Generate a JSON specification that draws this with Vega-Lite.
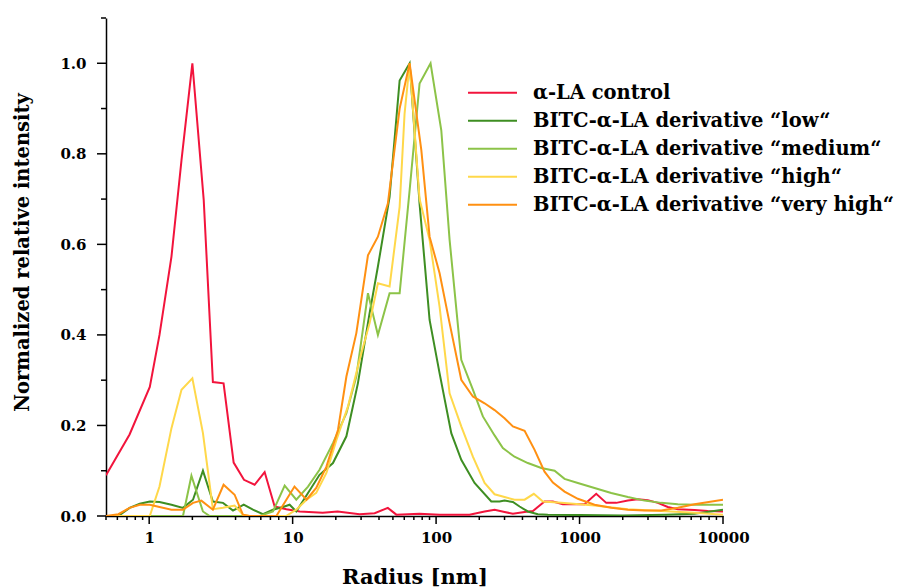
{
  "$schema": "https://vega.github.io/schema/vega-lite/v6.json",
  "width": 617,
  "height": 498,
  "autosize": {"type": "none"},
  "padding": {"left": 106, "top": 18, "right": 174, "bottom": 72},
  "background": "white",
  "config": {
    "view": {"stroke": null},
    "font": "DejaVu Serif",
    "axis": {"grid": false, "labelColor": "black", "titleColor": "black", "labelFont": "DejaVu Serif", "titleFont": "DejaVu Serif", "labelFontWeight": "bold", "titleFontWeight": "bold"}
  },
  "datasets": {
    "xmajor": [{"r": 1}, {"r": 10}, {"r": 100}, {"r": 1000}, {"r": 10000}],
    "xminor": [{"r": 0.5}, {"r": 0.6}, {"r": 0.7}, {"r": 0.8}, {"r": 0.9}, {"r": 2}, {"r": 3}, {"r": 4}, {"r": 5}, {"r": 6}, {"r": 7}, {"r": 8}, {"r": 9}, {"r": 20}, {"r": 30}, {"r": 40}, {"r": 50}, {"r": 60}, {"r": 70}, {"r": 80}, {"r": 90}, {"r": 200}, {"r": 300}, {"r": 400}, {"r": 500}, {"r": 600}, {"r": 700}, {"r": 800}, {"r": 900}, {"r": 2000}, {"r": 3000}, {"r": 4000}, {"r": 5000}, {"r": 6000}, {"r": 7000}, {"r": 8000}, {"r": 9000}],
    "ymajor": [{"v": 0}, {"v": 0.2}, {"v": 0.4}, {"v": 0.6}, {"v": 0.8}, {"v": 1.0}],
    "yminor": [{"v": 0.1}, {"v": 0.3}, {"v": 0.5}, {"v": 0.7}, {"v": 0.9}, {"v": 1.1}],
    "curves": [
      {"r": 0.5, "v": 0.09, "s": "α-LA control"},
      {"r": 0.73, "v": 0.18, "s": "α-LA control"},
      {"r": 1.01, "v": 0.285, "s": "α-LA control"},
      {"r": 1.18, "v": 0.4, "s": "α-LA control"},
      {"r": 1.43, "v": 0.573, "s": "α-LA control"},
      {"r": 1.68, "v": 0.786, "s": "α-LA control"},
      {"r": 2.0, "v": 1.0, "s": "α-LA control"},
      {"r": 2.4, "v": 0.698, "s": "α-LA control"},
      {"r": 2.78, "v": 0.296, "s": "α-LA control"},
      {"r": 3.3, "v": 0.293, "s": "α-LA control"},
      {"r": 3.88, "v": 0.118, "s": "α-LA control"},
      {"r": 4.58, "v": 0.08, "s": "α-LA control"},
      {"r": 5.43, "v": 0.069, "s": "α-LA control"},
      {"r": 6.38, "v": 0.097, "s": "α-LA control"},
      {"r": 7.49, "v": 0.021, "s": "α-LA control"},
      {"r": 9.04, "v": 0.015, "s": "α-LA control"},
      {"r": 11.2, "v": 0.01, "s": "α-LA control"},
      {"r": 16.2, "v": 0.007, "s": "α-LA control"},
      {"r": 20.6, "v": 0.01, "s": "α-LA control"},
      {"r": 29.3, "v": 0.004, "s": "α-LA control"},
      {"r": 37.3, "v": 0.006, "s": "α-LA control"},
      {"r": 46.1, "v": 0.018, "s": "α-LA control"},
      {"r": 52.8, "v": 0.003, "s": "α-LA control"},
      {"r": 76.7, "v": 0.005, "s": "α-LA control"},
      {"r": 105.8, "v": 0.003, "s": "α-LA control"},
      {"r": 171, "v": 0.003, "s": "α-LA control"},
      {"r": 218, "v": 0.01, "s": "α-LA control"},
      {"r": 256, "v": 0.014, "s": "α-LA control"},
      {"r": 300, "v": 0.009, "s": "α-LA control"},
      {"r": 343, "v": 0.005, "s": "α-LA control"},
      {"r": 414, "v": 0.009, "s": "α-LA control"},
      {"r": 473, "v": 0.011, "s": "α-LA control"},
      {"r": 570, "v": 0.032, "s": "α-LA control"},
      {"r": 652, "v": 0.032, "s": "α-LA control"},
      {"r": 765, "v": 0.026, "s": "α-LA control"},
      {"r": 1083, "v": 0.026, "s": "α-LA control"},
      {"r": 1307, "v": 0.049, "s": "α-LA control"},
      {"r": 1535, "v": 0.029, "s": "α-LA control"},
      {"r": 1802, "v": 0.029, "s": "α-LA control"},
      {"r": 2171, "v": 0.034, "s": "α-LA control"},
      {"r": 2548, "v": 0.037, "s": "α-LA control"},
      {"r": 2992, "v": 0.035, "s": "α-LA control"},
      {"r": 3513, "v": 0.029, "s": "α-LA control"},
      {"r": 4124, "v": 0.02, "s": "α-LA control"},
      {"r": 4842, "v": 0.015, "s": "α-LA control"},
      {"r": 6330, "v": 0.013, "s": "α-LA control"},
      {"r": 7837, "v": 0.011, "s": "α-LA control"},
      {"r": 10000, "v": 0.01, "s": "α-LA control"},

      {"r": 0.5, "v": 0, "s": "BITC-α-LA derivative “low“"},
      {"r": 0.61, "v": 0, "s": "BITC-α-LA derivative “low“"},
      {"r": 0.73, "v": 0.018, "s": "BITC-α-LA derivative “low“"},
      {"r": 0.86, "v": 0.027, "s": "BITC-α-LA derivative “low“"},
      {"r": 1.01, "v": 0.032, "s": "BITC-α-LA derivative “low“"},
      {"r": 1.18, "v": 0.031, "s": "BITC-α-LA derivative “low“"},
      {"r": 1.43, "v": 0.025, "s": "BITC-α-LA derivative “low“"},
      {"r": 1.72, "v": 0.018, "s": "BITC-α-LA derivative “low“"},
      {"r": 2.02, "v": 0.036, "s": "BITC-α-LA derivative “low“"},
      {"r": 2.37, "v": 0.1, "s": "BITC-α-LA derivative “low“"},
      {"r": 2.78, "v": 0.032, "s": "BITC-α-LA derivative “low“"},
      {"r": 3.27, "v": 0.029, "s": "BITC-α-LA derivative “low“"},
      {"r": 3.84, "v": 0.012, "s": "BITC-α-LA derivative “low“"},
      {"r": 4.56, "v": 0.025, "s": "BITC-α-LA derivative “low“"},
      {"r": 5.29, "v": 0.014, "s": "BITC-α-LA derivative “low“"},
      {"r": 6.21, "v": 0.004, "s": "BITC-α-LA derivative “low“"},
      {"r": 7.29, "v": 0.014, "s": "BITC-α-LA derivative “low“"},
      {"r": 8.56, "v": 0.02, "s": "BITC-α-LA derivative “low“"},
      {"r": 9.53, "v": 0.025, "s": "BITC-α-LA derivative “low“"},
      {"r": 10.6, "v": 0.01, "s": "BITC-α-LA derivative “low“"},
      {"r": 12.8, "v": 0.051, "s": "BITC-α-LA derivative “low“"},
      {"r": 15.4, "v": 0.091, "s": "BITC-α-LA derivative “low“"},
      {"r": 19.1, "v": 0.117, "s": "BITC-α-LA derivative “low“"},
      {"r": 23.7, "v": 0.176, "s": "BITC-α-LA derivative “low“"},
      {"r": 28.5, "v": 0.293, "s": "BITC-α-LA derivative “low“"},
      {"r": 34.4, "v": 0.448, "s": "BITC-α-LA derivative “low“"},
      {"r": 39.3, "v": 0.551, "s": "BITC-α-LA derivative “low“"},
      {"r": 47.4, "v": 0.705, "s": "BITC-α-LA derivative “low“"},
      {"r": 55.7, "v": 0.962, "s": "BITC-α-LA derivative “low“"},
      {"r": 65.4, "v": 1.0, "s": "BITC-α-LA derivative “low“"},
      {"r": 76.7, "v": 0.69, "s": "BITC-α-LA derivative “low“"},
      {"r": 90.1, "v": 0.433, "s": "BITC-α-LA derivative “low“"},
      {"r": 105.8, "v": 0.315, "s": "BITC-α-LA derivative “low“"},
      {"r": 127.6, "v": 0.183, "s": "BITC-α-LA derivative “low“"},
      {"r": 149.8, "v": 0.124, "s": "BITC-α-LA derivative “low“"},
      {"r": 185.4, "v": 0.073, "s": "BITC-α-LA derivative “low“"},
      {"r": 242.5, "v": 0.032, "s": "BITC-α-LA derivative “low“"},
      {"r": 277, "v": 0.032, "s": "BITC-α-LA derivative “low“"},
      {"r": 300, "v": 0.034, "s": "BITC-α-LA derivative “low“"},
      {"r": 343, "v": 0.031, "s": "BITC-α-LA derivative “low“"},
      {"r": 382, "v": 0.021, "s": "BITC-α-LA derivative “low“"},
      {"r": 436, "v": 0.01, "s": "BITC-α-LA derivative “low“"},
      {"r": 512, "v": 0.004, "s": "BITC-α-LA derivative “low“"},
      {"r": 601, "v": 0.003, "s": "BITC-α-LA derivative “low“"},
      {"r": 1000, "v": 0.002, "s": "BITC-α-LA derivative “low“"},
      {"r": 2000, "v": 0.001, "s": "BITC-α-LA derivative “low“"},
      {"r": 4000, "v": 0.003, "s": "BITC-α-LA derivative “low“"},
      {"r": 6330, "v": 0.005, "s": "BITC-α-LA derivative “low“"},
      {"r": 10000, "v": 0.014, "s": "BITC-α-LA derivative “low“"},

      {"r": 0.5, "v": 0, "s": "BITC-α-LA derivative “medium“"},
      {"r": 1.72, "v": 0, "s": "BITC-α-LA derivative “medium“"},
      {"r": 1.97, "v": 0.089, "s": "BITC-α-LA derivative “medium“"},
      {"r": 2.25, "v": 0.032, "s": "BITC-α-LA derivative “medium“"},
      {"r": 2.37, "v": 0.01, "s": "BITC-α-LA derivative “medium“"},
      {"r": 2.64, "v": 0, "s": "BITC-α-LA derivative “medium“"},
      {"r": 5.89, "v": 0, "s": "BITC-α-LA derivative “medium“"},
      {"r": 7.29, "v": 0.01, "s": "BITC-α-LA derivative “medium“"},
      {"r": 8.8, "v": 0.067, "s": "BITC-α-LA derivative “medium“"},
      {"r": 10.6, "v": 0.036, "s": "BITC-α-LA derivative “medium“"},
      {"r": 12.8, "v": 0.065, "s": "BITC-α-LA derivative “medium“"},
      {"r": 15.4, "v": 0.102, "s": "BITC-α-LA derivative “medium“"},
      {"r": 19.1, "v": 0.161, "s": "BITC-α-LA derivative “medium“"},
      {"r": 23.7, "v": 0.227, "s": "BITC-α-LA derivative “medium“"},
      {"r": 27.8, "v": 0.308, "s": "BITC-α-LA derivative “medium“"},
      {"r": 33.5, "v": 0.492, "s": "BITC-α-LA derivative “medium“"},
      {"r": 39.3, "v": 0.4, "s": "BITC-α-LA derivative “medium“"},
      {"r": 47.4, "v": 0.492, "s": "BITC-α-LA derivative “medium“"},
      {"r": 55.7, "v": 0.492, "s": "BITC-α-LA derivative “medium“"},
      {"r": 65.4, "v": 0.72, "s": "BITC-α-LA derivative “medium“"},
      {"r": 76.7, "v": 0.955, "s": "BITC-α-LA derivative “medium“"},
      {"r": 91.5, "v": 1.0, "s": "BITC-α-LA derivative “medium“"},
      {"r": 108.7, "v": 0.852, "s": "BITC-α-LA derivative “medium“"},
      {"r": 124.2, "v": 0.61, "s": "BITC-α-LA derivative “medium“"},
      {"r": 149.8, "v": 0.345, "s": "BITC-α-LA derivative “medium“"},
      {"r": 180.5, "v": 0.279, "s": "BITC-α-LA derivative “medium“"},
      {"r": 211.9, "v": 0.22, "s": "BITC-α-LA derivative “medium“"},
      {"r": 255.7, "v": 0.178, "s": "BITC-α-LA derivative “medium“"},
      {"r": 292, "v": 0.15, "s": "BITC-α-LA derivative “medium“"},
      {"r": 352, "v": 0.131, "s": "BITC-α-LA derivative “medium“"},
      {"r": 436, "v": 0.117, "s": "BITC-α-LA derivative “medium“"},
      {"r": 541, "v": 0.106, "s": "BITC-α-LA derivative “medium“"},
      {"r": 670, "v": 0.1, "s": "BITC-α-LA derivative “medium“"},
      {"r": 786, "v": 0.082, "s": "BITC-α-LA derivative “medium“"},
      {"r": 973, "v": 0.073, "s": "BITC-α-LA derivative “medium“"},
      {"r": 1272, "v": 0.062, "s": "BITC-α-LA derivative “medium“"},
      {"r": 1663, "v": 0.051, "s": "BITC-α-LA derivative “medium“"},
      {"r": 2171, "v": 0.042, "s": "BITC-α-LA derivative “medium“"},
      {"r": 2838, "v": 0.034, "s": "BITC-α-LA derivative “medium“"},
      {"r": 3710, "v": 0.029, "s": "BITC-α-LA derivative “medium“"},
      {"r": 4842, "v": 0.026, "s": "BITC-α-LA derivative “medium“"},
      {"r": 6330, "v": 0.025, "s": "BITC-α-LA derivative “medium“"},
      {"r": 10000, "v": 0.025, "s": "BITC-α-LA derivative “medium“"},

      {"r": 0.5, "v": 0, "s": "BITC-α-LA derivative “high“"},
      {"r": 1.01, "v": 0, "s": "BITC-α-LA derivative “high“"},
      {"r": 1.18, "v": 0.065, "s": "BITC-α-LA derivative “high“"},
      {"r": 1.43, "v": 0.194, "s": "BITC-α-LA derivative “high“"},
      {"r": 1.68, "v": 0.279, "s": "BITC-α-LA derivative “high“"},
      {"r": 2.0, "v": 0.304, "s": "BITC-α-LA derivative “high“"},
      {"r": 2.37, "v": 0.183, "s": "BITC-α-LA derivative “high“"},
      {"r": 2.78, "v": 0.015, "s": "BITC-α-LA derivative “high“"},
      {"r": 3.27, "v": 0.018, "s": "BITC-α-LA derivative “high“"},
      {"r": 3.94, "v": 0.023, "s": "BITC-α-LA derivative “high“"},
      {"r": 4.5, "v": 0.003, "s": "BITC-α-LA derivative “high“"},
      {"r": 5.0, "v": 0, "s": "BITC-α-LA derivative “high“"},
      {"r": 9.0, "v": 0, "s": "BITC-α-LA derivative “high“"},
      {"r": 10.6, "v": 0.014, "s": "BITC-α-LA derivative “high“"},
      {"r": 12.5, "v": 0.036, "s": "BITC-α-LA derivative “high“"},
      {"r": 14.6, "v": 0.051, "s": "BITC-α-LA derivative “high“"},
      {"r": 17.2, "v": 0.095, "s": "BITC-α-LA derivative “high“"},
      {"r": 20.2, "v": 0.168, "s": "BITC-α-LA derivative “high“"},
      {"r": 24.3, "v": 0.242, "s": "BITC-α-LA derivative “high“"},
      {"r": 29.3, "v": 0.345, "s": "BITC-α-LA derivative “high“"},
      {"r": 34.4, "v": 0.426, "s": "BITC-α-LA derivative “high“"},
      {"r": 39.3, "v": 0.514, "s": "BITC-α-LA derivative “high“"},
      {"r": 47.4, "v": 0.507, "s": "BITC-α-LA derivative “high“"},
      {"r": 55.7, "v": 0.683, "s": "BITC-α-LA derivative “high“"},
      {"r": 60.3, "v": 0.889, "s": "BITC-α-LA derivative “high“"},
      {"r": 65.4, "v": 1.0, "s": "BITC-α-LA derivative “high“"},
      {"r": 76.7, "v": 0.7, "s": "BITC-α-LA derivative “high“"},
      {"r": 90.1, "v": 0.61, "s": "BITC-α-LA derivative “high“"},
      {"r": 105.8, "v": 0.462, "s": "BITC-α-LA derivative “high“"},
      {"r": 124.2, "v": 0.271, "s": "BITC-α-LA derivative “high“"},
      {"r": 149.8, "v": 0.198, "s": "BITC-α-LA derivative “high“"},
      {"r": 180.5, "v": 0.131, "s": "BITC-α-LA derivative “high“"},
      {"r": 217.8, "v": 0.073, "s": "BITC-α-LA derivative “high“"},
      {"r": 255.7, "v": 0.048, "s": "BITC-α-LA derivative “high“"},
      {"r": 300, "v": 0.042, "s": "BITC-α-LA derivative “high“"},
      {"r": 352, "v": 0.036, "s": "BITC-α-LA derivative “high“"},
      {"r": 414, "v": 0.036, "s": "BITC-α-LA derivative “high“"},
      {"r": 480, "v": 0.049, "s": "BITC-α-LA derivative “high“"},
      {"r": 555, "v": 0.032, "s": "BITC-α-LA derivative “high“"},
      {"r": 746, "v": 0.029, "s": "BITC-α-LA derivative “high“"},
      {"r": 1272, "v": 0.023, "s": "BITC-α-LA derivative “high“"},
      {"r": 2171, "v": 0.015, "s": "BITC-α-LA derivative “high“"},
      {"r": 3710, "v": 0.011, "s": "BITC-α-LA derivative “high“"},
      {"r": 6330, "v": 0.007, "s": "BITC-α-LA derivative “high“"},
      {"r": 10000, "v": 0.003, "s": "BITC-α-LA derivative “high“"},

      {"r": 0.5, "v": 0, "s": "BITC-α-LA derivative “very high“"},
      {"r": 0.61, "v": 0.004, "s": "BITC-α-LA derivative “very high“"},
      {"r": 0.73, "v": 0.018, "s": "BITC-α-LA derivative “very high“"},
      {"r": 0.86, "v": 0.025, "s": "BITC-α-LA derivative “very high“"},
      {"r": 1.01, "v": 0.025, "s": "BITC-α-LA derivative “very high“"},
      {"r": 1.18, "v": 0.02, "s": "BITC-α-LA derivative “very high“"},
      {"r": 1.43, "v": 0.014, "s": "BITC-α-LA derivative “very high“"},
      {"r": 1.72, "v": 0.014, "s": "BITC-α-LA derivative “very high“"},
      {"r": 2.02, "v": 0.029, "s": "BITC-α-LA derivative “very high“"},
      {"r": 2.31, "v": 0.034, "s": "BITC-α-LA derivative “very high“"},
      {"r": 2.78, "v": 0.014, "s": "BITC-α-LA derivative “very high“"},
      {"r": 3.3, "v": 0.069, "s": "BITC-α-LA derivative “very high“"},
      {"r": 3.94, "v": 0.047, "s": "BITC-α-LA derivative “very high“"},
      {"r": 4.5, "v": 0.003, "s": "BITC-α-LA derivative “very high“"},
      {"r": 5.0, "v": 0, "s": "BITC-α-LA derivative “very high“"},
      {"r": 7.7, "v": 0, "s": "BITC-α-LA derivative “very high“"},
      {"r": 10.3, "v": 0.065, "s": "BITC-α-LA derivative “very high“"},
      {"r": 12.5, "v": 0.036, "s": "BITC-α-LA derivative “very high“"},
      {"r": 14.6, "v": 0.062, "s": "BITC-α-LA derivative “very high“"},
      {"r": 17.2, "v": 0.109, "s": "BITC-α-LA derivative “very high“"},
      {"r": 20.7, "v": 0.19, "s": "BITC-α-LA derivative “very high“"},
      {"r": 23.7, "v": 0.308, "s": "BITC-α-LA derivative “very high“"},
      {"r": 27.8, "v": 0.404, "s": "BITC-α-LA derivative “very high“"},
      {"r": 33.5, "v": 0.576, "s": "BITC-α-LA derivative “very high“"},
      {"r": 39.3, "v": 0.617, "s": "BITC-α-LA derivative “very high“"},
      {"r": 46.1, "v": 0.69, "s": "BITC-α-LA derivative “very high“"},
      {"r": 50.9, "v": 0.8, "s": "BITC-α-LA derivative “very high“"},
      {"r": 55.7, "v": 0.9, "s": "BITC-α-LA derivative “very high“"},
      {"r": 65.4, "v": 1.0, "s": "BITC-α-LA derivative “very high“"},
      {"r": 78.9, "v": 0.808, "s": "BITC-α-LA derivative “very high“"},
      {"r": 90.1, "v": 0.617, "s": "BITC-α-LA derivative “very high“"},
      {"r": 105.8, "v": 0.536, "s": "BITC-α-LA derivative “very high“"},
      {"r": 124.2, "v": 0.426, "s": "BITC-α-LA derivative “very high“"},
      {"r": 149.8, "v": 0.301, "s": "BITC-α-LA derivative “very high“"},
      {"r": 180.5, "v": 0.264, "s": "BITC-α-LA derivative “very high“"},
      {"r": 217.8, "v": 0.249, "s": "BITC-α-LA derivative “very high“"},
      {"r": 255.7, "v": 0.234, "s": "BITC-α-LA derivative “very high“"},
      {"r": 300, "v": 0.216, "s": "BITC-α-LA derivative “very high“"},
      {"r": 343, "v": 0.198, "s": "BITC-α-LA derivative “very high“"},
      {"r": 414, "v": 0.188, "s": "BITC-α-LA derivative “very high“"},
      {"r": 486, "v": 0.146, "s": "BITC-α-LA derivative “very high“"},
      {"r": 570, "v": 0.098, "s": "BITC-α-LA derivative “very high“"},
      {"r": 652, "v": 0.074, "s": "BITC-α-LA derivative “very high“"},
      {"r": 786, "v": 0.054, "s": "BITC-α-LA derivative “very high“"},
      {"r": 973, "v": 0.038, "s": "BITC-α-LA derivative “very high“"},
      {"r": 1272, "v": 0.025, "s": "BITC-α-LA derivative “very high“"},
      {"r": 1663, "v": 0.018, "s": "BITC-α-LA derivative “very high“"},
      {"r": 2171, "v": 0.014, "s": "BITC-α-LA derivative “very high“"},
      {"r": 2838, "v": 0.012, "s": "BITC-α-LA derivative “very high“"},
      {"r": 3710, "v": 0.012, "s": "BITC-α-LA derivative “very high“"},
      {"r": 4842, "v": 0.018, "s": "BITC-α-LA derivative “very high“"},
      {"r": 6330, "v": 0.026, "s": "BITC-α-LA derivative “very high“"},
      {"r": 10000, "v": 0.036, "s": "BITC-α-LA derivative “very high“"}
    ]
  },
  "layer": [
    {
      "data": {"name": "curves"},
      "mark": {"type": "line", "strokeWidth": 2, "clip": true},
      "encoding": {
        "x": {
          "field": "r", "type": "quantitative",
          "scale": {"type": "log", "domain": [0.5, 10000], "nice": false},
          "axis": {
            "orient": "bottom",
            "title": "Radius [nm]",
            "titleFontSize": 21,
            "titlePadding": 21,
            "labelFontSize": 15,
            "labelPadding": 14,
            "domainColor": "#000000",
            "domainWidth": 1.5,
            "ticks": false,
            "values": [1, 10, 100, 1000, 10000],
            "labelExpr": "format(datum.value, 'd')",
            "labelFlush": false,
            "labelOverlap": false
          }
        },
        "y": {
          "field": "v", "type": "quantitative",
          "scale": {"domain": [0, 1.1], "nice": false},
          "axis": {
            "orient": "left",
            "title": "Normalized relative intensity",
            "titleFontSize": 19.5,
            "titleX": -74,
            "titleY": 234,
            "labelFontSize": 15,
            "labelPadding": 20,
            "domainColor": "#000000",
            "domainWidth": 1.5,
            "ticks": false,
            "values": [0, 0.2, 0.4, 0.6, 0.8, 1.0],
            "format": ".1f",
            "labelOverlap": false
          }
        },
        "color": {
          "field": "s", "type": "nominal",
          "scale": {
            "domain": ["α-LA control", "BITC-α-LA derivative “low“", "BITC-α-LA derivative “medium“", "BITC-α-LA derivative “high“", "BITC-α-LA derivative “very high“"],
            "range": ["#F2143C", "#3E8E22", "#8CC348", "#FFD84A", "#FF9012"]
          },
          "legend": {
            "title": null,
            "orient": "none",
            "legendX": 361,
            "legendY": 61,
            "symbolType": "stroke",
            "symbolSize": 2400,
            "symbolStrokeWidth": 2,
            "clipHeight": 27.7,
            "labelFont": "DejaVu Serif",
            "labelFontWeight": "bold",
            "labelFontSize": 19.5,
            "labelColor": "black",
            "labelOffset": 15,
            "labelLimit": 600,
            "rowPadding": 0
          }
        }
      }
    },
    {
      "data": {"name": "xmajor"},
      "mark": {"type": "rule", "color": "black", "strokeWidth": 1.5, "y2Offset": 8, "clip": false},
      "encoding": {
        "x": {"field": "r", "type": "quantitative"},
        "y": {"datum": 0, "type": "quantitative"},
        "y2": {"datum": 0}
      }
    },
    {
      "data": {"name": "xminor"},
      "mark": {"type": "rule", "color": "black", "strokeWidth": 1.5, "y2Offset": 4, "clip": false},
      "encoding": {
        "x": {"field": "r", "type": "quantitative"},
        "y": {"datum": 0, "type": "quantitative"},
        "y2": {"datum": 0}
      }
    },
    {
      "data": {"name": "ymajor"},
      "mark": {"type": "rule", "color": "black", "strokeWidth": 1.5, "x2Offset": -9, "clip": false},
      "encoding": {
        "y": {"field": "v", "type": "quantitative"},
        "x": {"datum": 0.5, "type": "quantitative"},
        "x2": {"datum": 0.5}
      }
    },
    {
      "data": {"name": "yminor"},
      "mark": {"type": "rule", "color": "black", "strokeWidth": 1.5, "x2Offset": -5, "clip": false},
      "encoding": {
        "y": {"field": "v", "type": "quantitative"},
        "x": {"datum": 0.5, "type": "quantitative"},
        "x2": {"datum": 0.5}
      }
    }
  ]
}
